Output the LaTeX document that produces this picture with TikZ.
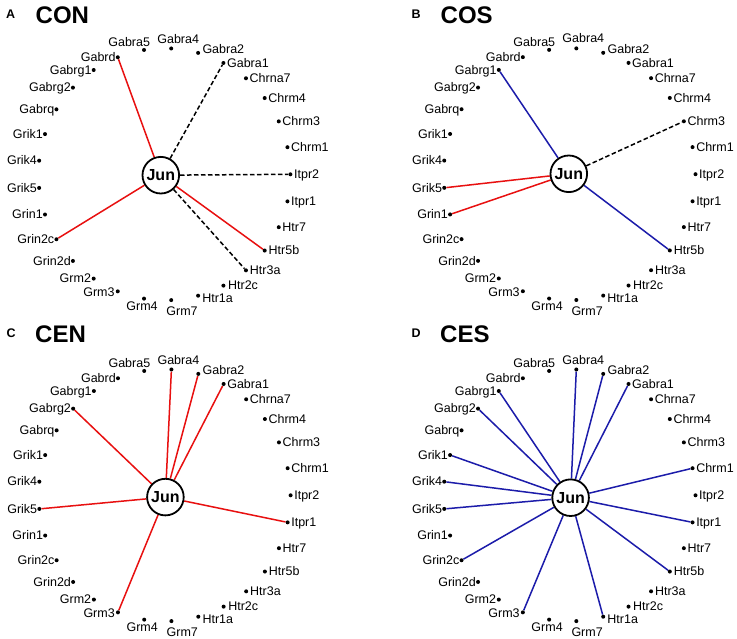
\documentclass[tikz,border=0pt]{standalone}
\usepackage{fontspec}
\setmainfont{Liberation Sans}
\usetikzlibrary{calc}
\pgfdeclarelayer{bg}
\pgfsetlayers{bg,main}
\definecolor{edgered}{RGB}{232,16,16}
\definecolor{edgeblue}{RGB}{28,28,170}
\tikzset{
  dotn/.style={circle,fill=black,inner sep=0pt,minimum size=4pt},
  lbl/.style={inner sep=0pt,font=\fontsize{12.5}{14}\selectfont},
  junn/.style={circle,draw=black,line width=1.8pt,fill=white,inner sep=0pt,minimum size=36.6pt,font=\fontsize{16}{18}\selectfont\bfseries},
  paneltag/.style={inner sep=0pt,anchor=base west,font=\fontsize{12.5}{14}\selectfont\bfseries},
  paneltitle/.style={inner sep=0pt,anchor=base west,font=\fontsize{24}{28}\selectfont\bfseries},
  redge/.style={draw=edgered,line width=1.5pt},
  bedge/.style={draw=edgeblue,line width=1.5pt},
  dedge/.style={draw=black,line width=1.5pt,dash pattern=on 4.5pt off 2.5pt},
}
\newcommand\genering[5]{%
  % #1 prefix, #2 cx, #3 cy, #4 jun x, #5 jun y
  \node[junn] (#1-Jun) at (#4,#5) {Jun};
  \foreach \k/\nm/\an/\dx/\dy in {
    0/Itpr2/base west/3.5/4.3,
    1/Chrm1/base west/3.5/4.3,
    2/Chrm3/base west/3.5/4.3,
    3/Chrm4/base west/3.5/4.3,
    4/Chrna7/base west/3.5/4.3,
    5/Gabra1/base west/3.5/4.3,
    6/Gabra2/base west/4.2/1,
    7/Gabra4/base/7/-5.4,
    8/Gabra5/base/-14.8/-3.3,
    9/Gabrd/base east/-2/4.3,
    10/Gabrg1/base east/-2/4.3,
    11/Gabrg2/base east/-2/4.3,
    12/Gabrq/base east/-2/4.3,
    13/Grik1/base east/-2/4.3,
    14/Grik4/base east/-2/4.3,
    15/Grik5/base east/-2/4.3,
    16/Grin1/base east/-2/4.3,
    17/Grin2c/base east/-2/4.3,
    18/Grin2d/base east/-2/4.3,
    19/Grm2/base east/-2.5/4.3,
    20/Grm3/base east/-3/5.5,
    21/Grm4/base/-2/12,
    22/Grm7/base west/-5/15.5,
    23/Htr1a/base west/4/7,
    24/Htr2c/base west/4.5/4.3,
    25/Htr3a/base west/3.8/4.3,
    26/Htr5b/base west/3.8/4.3,
    27/Htr7/base west/3.5/4.3,
    28/Itpr1/base west/3.5/4.3}{
    \pgfmathsetmacro\t{\k*360/29}
    \pgfmathsetmacro\px{#2+126*cos(\t)}
    \pgfmathsetmacro\py{#3-126*sin(\t)}
    \node[dotn] (#1-\nm) at (\px,\py) {};
    \node[lbl,anchor=\an] (#1-\nm-l) at (\px+\dx,\py+\dy) {\nm};
  }
}
\begin{document}
\begin{tikzpicture}[x=1pt,y=-1pt]
\useasboundingbox (0,0) rectangle (737,639);

% Panel A
\node[paneltag] (tA) at (6,18.3) {A};
\node[paneltitle] (ttA) at (35.5,23.3) {CON};
\genering{A}{164.4}{174.3}{160.8}{175.2}
% Panel B
\node[paneltag] (tB) at (411.5,18.3) {B};
\node[paneltitle] (ttB) at (440.5,23.3) {COS};
\genering{B}{569.5}{174.2}{568.8}{173.8}
% Panel C
\node[paneltag] (tC) at (6.5,337.5) {C};
\node[paneltitle] (ttC) at (35,343) {CEN};
\genering{C}{164.6}{495.3}{165.4}{497.1}
% Panel D
\node[paneltag] (tD) at (411.5,337.5) {D};
\node[paneltitle] (ttD) at (440,343) {CES};
\genering{D}{569.5}{495.3}{570.6}{497.7}

\begin{pgfonlayer}{bg}
\fill[white] (0,0) rectangle (737,639);
% A: CON
\foreach \g in {Gabrd,Htr5b,Grin2c} \draw[redge] (A-Jun) -- (A-\g);
\foreach \g in {Gabra1,Itpr2,Htr3a} \draw[dedge] (A-Jun) -- (A-\g);
% B: COS
\foreach \g in {Gabrg1,Htr5b} \draw[bedge] (B-Jun) -- (B-\g);
\foreach \g in {Grik5,Grin1} \draw[redge] (B-Jun) -- (B-\g);
\foreach \g in {Chrm3} \draw[dedge] (B-Jun) -- (B-\g);
% C: CEN
\foreach \g in {Gabra4,Gabra2,Gabra1,Gabrg2,Grik5,Itpr1,Grm3} \draw[redge] (C-Jun) -- (C-\g);
% D: CES
\foreach \g in {Gabra4,Gabra2,Gabra1,Gabrg1,Gabrg2,Grik1,Grik4,Grik5,Grin2c,Grm3,Htr1a,Htr5b,Itpr1,Chrm1} \draw[bedge] (D-Jun) -- (D-\g);
\end{pgfonlayer}
\end{tikzpicture}
\end{document}
